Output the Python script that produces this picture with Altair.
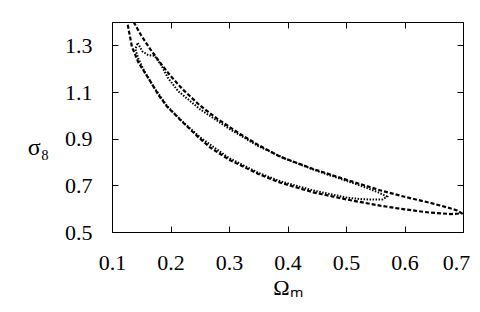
import altair as alt
import pandas as pd

# Outer (dashed) contour: upper branch left->right, then lower branch right->left
outer_x = [0.137, 0.150, 0.165, 0.182, 0.200, 0.221, 0.250, 0.280, 0.319, 0.350,
           0.387, 0.444, 0.502, 0.558, 0.600, 0.644, 0.675, 0.690, 0.698,
           0.680, 0.644, 0.600, 0.558, 0.502, 0.444, 0.387, 0.350, 0.300, 0.268,
           0.250, 0.221, 0.194, 0.180, 0.165, 0.145, 0.134, 0.126]
outer_y = [1.400, 1.342, 1.285, 1.227, 1.169, 1.111, 1.043, 0.985, 0.920, 0.873,
           0.823, 0.770, 0.723, 0.679, 0.651, 0.625, 0.604, 0.592, 0.580,
           0.577, 0.583, 0.597, 0.613, 0.639, 0.670, 0.712, 0.749, 0.810, 0.862,
           0.901, 0.970, 1.038, 1.085, 1.148, 1.227, 1.295, 1.400]

# Inner (dotted) contour, closed
inner_x = [0.144, 0.152, 0.162, 0.173, 0.185, 0.196, 0.213, 0.250, 0.300, 0.350,
           0.400, 0.450, 0.502, 0.530, 0.555, 0.570, 0.562, 0.530, 0.502, 0.444,
           0.387, 0.350, 0.300, 0.250, 0.221, 0.194, 0.170, 0.155, 0.145, 0.140, 0.144]
inner_y = [1.310, 1.274, 1.258, 1.255, 1.211, 1.159, 1.104, 1.027, 0.943, 0.868,
           0.810, 0.762, 0.718, 0.694, 0.670, 0.652, 0.639, 0.640, 0.647, 0.678,
           0.718, 0.754, 0.817, 0.907, 0.972, 1.040, 1.127, 1.190, 1.243, 1.285, 1.310]

x_ticks = [0.1, 0.2, 0.3, 0.4, 0.5, 0.6, 0.7]
y_ticks = [0.5, 0.7, 0.9, 1.1, 1.3]

outer = pd.DataFrame({"om": outer_x, "s8": outer_y, "i": range(len(outer_x))})
inner = pd.DataFrame({"om": inner_x, "s8": inner_y, "i": range(len(inner_x))})

FONT = "Liberation Serif, Times New Roman, Times, serif"
FS = 22

xscale = alt.Scale(domain=[0.1, 0.7], nice=False, zero=False)
yscale = alt.Scale(domain=[0.5, 1.4], nice=False, zero=False)

ax_bottom = alt.Axis(values=x_ticks, format=".1f", orient="bottom", offset=-6,
                     tickSize=6, domain=False, grid=False, tickColor="black",
                     labelFont=FONT, labelFontSize=FS, labelColor="black",
                     labelPadding=20, labelFlush=False,
                     labelOffset=alt.expr("datum.value > 0.65 ? -7 : 0"),
                     title="Ωₘ", titleFont=FONT, titleFontSize=22,
                     titleFontWeight="normal", titleColor="black", titlePadding=4)
ax_left = alt.Axis(values=y_ticks, format=".1f", orient="left", offset=-6,
                   tickSize=6, domain=False, grid=False, tickColor="black",
                   labelFont=FONT, labelFontSize=FS, labelColor="black",
                   labelPadding=20, labelFlush=False,
                   title="σ₈", titleFont=FONT, titleFontSize=24,
                   titleFontWeight="normal", titleColor="black", titleAngle=0,
                   titleAlign="center", titleBaseline="middle",
                   titleX=-80, titleY=125)
ax_top = alt.Axis(values=x_ticks, orient="top", offset=-6, tickSize=6,
                  domain=False, grid=False, labels=False, tickColor="black", title=None)
ax_right = alt.Axis(values=y_ticks, orient="right", offset=-6, tickSize=6,
                    domain=False, grid=False, labels=False, tickColor="black", title=None)

outer_line = alt.Chart(outer).mark_line(
    color="black", strokeWidth=2.2, strokeDash=[4, 2], clip=True
).encode(
    x=alt.X("om:Q", scale=xscale, axis=ax_bottom),
    y=alt.Y("s8:Q", scale=yscale, axis=ax_left),
    order="i:Q",
)

inner_line = alt.Chart(inner).mark_line(
    color="black", strokeWidth=2, strokeDash=[1.5, 1.5], clip=True
).encode(
    x=alt.X("om:Q", scale=xscale, axis=ax_top),
    y=alt.Y("s8:Q", scale=yscale, axis=ax_right),
    order="i:Q",
)

chart = alt.layer(outer_line, inner_line).resolve_axis(
    x="independent", y="independent"
).properties(
    width=351, height=210,
    autosize=alt.AutoSizeParams(type="none"),
    padding={"left": 104, "top": 14, "right": 9, "bottom": 72},
    background="white",
).configure_view(stroke="black", strokeWidth=1)

chart.save("out.html", embed_options={"renderer": "svg", "actions": False})
